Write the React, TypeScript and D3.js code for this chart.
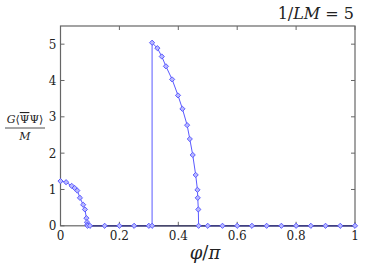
import React from "react";
import * as d3 from "d3";

// phi / pi
const phi = [
  0, 0.019, 0.038, 0.048, 0.057, 0.066, 0.077, 0.083, 0.088, 0.09, 0.091, 0.092, 0.1,
  0.15, 0.2, 0.25, 0.3, 0.311,
  0.311, 0.329, 0.344, 0.358, 0.379, 0.399, 0.414, 0.43, 0.439, 0.449, 0.459, 0.465, 0.466, 0.468, 0.469,
  0.5, 0.55, 0.6, 0.65, 0.7, 0.75, 0.8, 0.85, 0.9, 0.95, 1.0,
];
// G<PsiBar Psi>/M
const condensate = [
  1.23, 1.2, 1.1, 1.04, 0.97, 0.77, 0.58, 0.45, 0.21, 0.1, 0.03, 0, 0,
  0, 0, 0, 0, 0,
  5.04, 4.89, 4.66, 4.39, 4.03, 3.59, 3.22, 2.77, 2.39, 1.95, 1.4, 0.99, 0.77, 0.45, 0,
  0, 0, 0, 0, 0, 0, 0, 0, 0, 0, 0,
];
const xTicks = [0, 0.2, 0.4, 0.6, 0.8, 1];
const yTicks = [0, 1, 2, 3, 4, 5];

const W = 366;
const H = 274;
const left = 60.5;
const right = 355;
const top = 26;
const bottom = 225.8;

export default function App() {
  const x = d3.scaleLinear().domain([0, 1]).range([left, right]);
  const y = d3.scaleLinear().domain([0, 5.5]).range([bottom, top]);
  const pts = phi.map((p, i) => [p, condensate[i]] as [number, number]);
  const line = d3.line<[number, number]>().x(d => x(d[0])).y(d => y(d[1]));
  const diamond = (cx: number, cy: number, r: number) =>
    `M${cx},${cy - r}L${cx + r},${cy}L${cx},${cy + r}L${cx - r},${cy}Z`;
  const serif = { fontFamily: "'DejaVu Serif', 'Liberation Serif', serif" };
  const tk = 4;

  return (
    <svg width={W} height={H} style={{ position: "absolute", left: 0, top: 0, background: "white" }}>
      {/* ticks on all four sides */}
      <g stroke="#666" strokeWidth={1}>
        {xTicks.map(t => (
          <g key={"x" + t}>
            <line x1={x(t)} x2={x(t)} y1={bottom} y2={bottom - tk} />
            <line x1={x(t)} x2={x(t)} y1={top} y2={top + tk} />
          </g>
        ))}
        {yTicks.map(t => (
          <g key={"y" + t}>
            <line x1={left} x2={left + tk} y1={y(t)} y2={y(t)} />
            <line x1={right} x2={right - tk} y1={y(t)} y2={y(t)} />
          </g>
        ))}
      </g>
      <rect x={left} y={top} width={right - left} height={bottom - top} fill="none" stroke="#666" strokeWidth={1.2} />

      <path d={line(pts) || ""} fill="none" stroke="#5a5aff" strokeWidth={1} />
      <line x1={x(0.1)} x2={right} y1={bottom} y2={bottom} stroke="#333366" strokeWidth={1.2} />
      {pts.map((d, i) => (
        <path key={i} d={diamond(x(d[0]), y(d[1]), 2.6)} fill="#b8b8ff" stroke="#5050ff" strokeWidth={0.9} />
      ))}

      <g style={serif} fontSize={12} fill="#222">
        {xTicks.map(t => (
          <text key={"xl" + t} x={x(t)} y={bottom + 14} textAnchor="middle">
            {d3.format("")(t)}
          </text>
        ))}
        {yTicks.map(t => (
          <text key={"yl" + t} x={left - 4} y={y(t) + 4.5} textAnchor="end">
            {t}
          </text>
        ))}
      </g>

      <text x={354} y={19} textAnchor="end" style={serif} fontSize={16} fill="#222">
        1/<tspan fontStyle="italic">LM</tspan> = 5
      </text>

      <text x={205} y={259} textAnchor="middle" style={serif} fontSize={18} fill="#222">
        <tspan fontStyle="italic">φ</tspan>/<tspan fontStyle="italic">π</tspan>
      </text>

      <g style={serif} fill="#222">
        <text x={25} y={123} textAnchor="middle" fontSize={11}>
          <tspan fontStyle="italic">G</tspan>⟨<tspan textDecoration="overline">Ψ</tspan>Ψ⟩
        </text>
        <line x1={5} x2={45} y1={128} y2={128} stroke="#222" strokeWidth={0.8} />
        <text x={25} y={140} textAnchor="middle" fontSize={11} fontStyle="italic">
          M
        </text>
      </g>
    </svg>
  );
}
